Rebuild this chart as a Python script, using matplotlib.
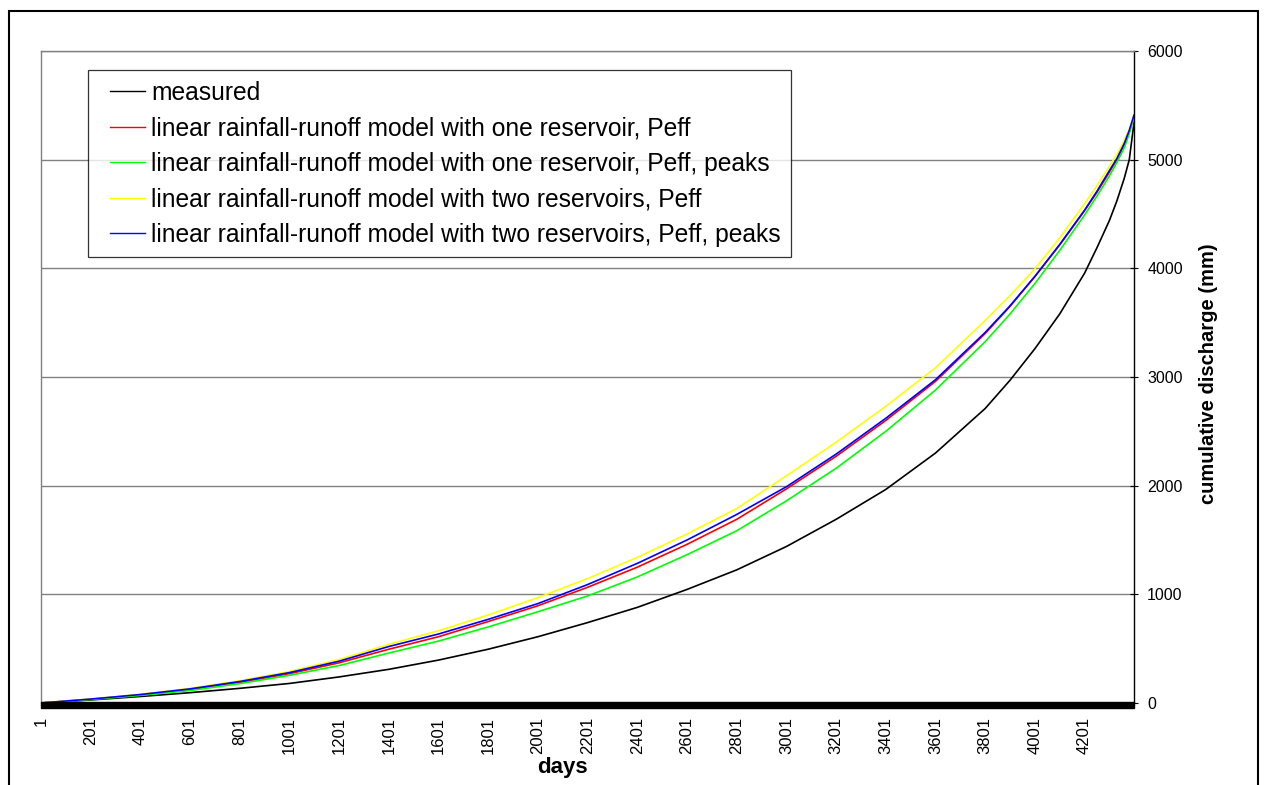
import matplotlib
matplotlib.use("Agg")
import matplotlib.pyplot as plt
from matplotlib.patches import Rectangle
from matplotlib.legend_handler import HandlerLine2D

plt.rcParams['font.family'] = ['Liberation Sans', 'DejaVu Sans']

# Sampled days of the simulation period
days = [1, 201, 401, 601, 801, 1001, 1201, 1401, 1601, 1801, 2001, 2201,
        2401, 2601, 2801, 3001, 3201, 3401, 3601, 3801, 3901, 4001, 4101,
        4201, 4251, 4301, 4331, 4361, 4381, 4400]

# Cumulative discharge (mm)
measured = [0, 28, 60, 95, 135, 180, 240, 310, 395, 495, 610, 740, 880,
            1045, 1225, 1440, 1690, 1965, 2300, 2710, 2970, 3260, 3580,
            3955, 4190, 4440, 4620, 4830, 5000, 5340]
one_res_peff = [0, 35, 75, 125, 190, 270, 370, 495, 610, 750, 895, 1065,
                1250, 1460, 1690, 1970, 2270, 2600, 2960, 3400, 3650, 3925,
                4215, 4530, 4700, 4885, 5000, 5140, 5260, 5400]
one_res_peff_peaks = [0, 32, 70, 115, 178, 255, 345, 460, 570, 700, 840, 985,
                      1160, 1365, 1585, 1860, 2160, 2500, 2880, 3325, 3580,
                      3860, 4165, 4490, 4665, 4850, 4975, 5110, 5240, 5390]
two_res_peff = [0, 37, 80, 135, 205, 290, 400, 540, 665, 810, 970, 1145,
                1340, 1555, 1790, 2090, 2400, 2730, 3085, 3520, 3750, 3995,
                4280, 4595, 4760, 4940, 5050, 5180, 5280, 5405]
two_res_peff_peaks = [0, 36, 78, 130, 198, 280, 385, 520, 635, 770, 915, 1090,
                      1285, 1500, 1735, 1990, 2290, 2620, 2975, 3410, 3655,
                      3925, 4220, 4535, 4710, 4900, 5010, 5150, 5270, 5410]

labels = [
    "measured",
    "linear rainfall-runoff model with one reservoir, Peff",
    "linear rainfall-runoff model with one reservoir, Peff, peaks",
    "linear rainfall-runoff model with two reservoirs, Peff",
    "linear rainfall-runoff model with two reservoirs, Peff, peaks",
]
series = [measured, one_res_peff, one_res_peff_peaks, two_res_peff,
          two_res_peff_peaks]
colors = ["#000000", "#FF0000", "#00FF00", "#FFFF00", "#0000FF"]

x_ticks = list(range(1, 4202, 200))
y_ticks = [0, 1000, 2000, 3000, 4000, 5000, 6000]


class IndentedLineHandler(HandlerLine2D):
    """Legend key line drawn in the right-hand part of the handle box."""

    def create_artists(self, legend, orig_handle, xdescent, ydescent,
                       width, height, fontsize, trans):
        artists = super().create_artists(legend, orig_handle, xdescent,
                                          ydescent, width, height, fontsize,
                                          trans)
        line = artists[0]
        y = line.get_ydata()[0]
        line.set_data([-xdescent + 0.25 * width, -xdescent + width], [y, y])
        return artists


W, H = 1266, 785
fig = plt.figure(figsize=(W / 100, H / 100), dpi=100)
ax = fig.add_axes([41 / W, 1 - 703 / H, 1093 / W, 652 / H])

for vals, col, lab in zip(series, colors, labels):
    ax.plot(days, vals, color=col, lw=1.2, label=lab, solid_joinstyle="round")

ax.set_xlim(1, days[-1])
ax.set_ylim(0, 6000)

# horizontal gridlines
ax.set_yticks(y_ticks)
ax.yaxis.grid(True, color="#808080", lw=1.0)
ax.set_axisbelow(True)

# right-hand value axis
ax.yaxis.tick_right()
ax.yaxis.set_label_position("right")
ax.tick_params(axis="y", direction="inout", length=6, width=0.8,
               labelsize=11.5, pad=6.5, colors="black")
ax.set_ylabel("cumulative discharge (mm)", fontsize=14.5, fontweight="bold")
ax.yaxis.set_label_coords(1.0595, 0.505)

# category axis with day labels
ax.set_xticks(x_ticks)
ax.set_xticklabels([str(t) for t in x_ticks], rotation=90, fontsize=12)
ax.tick_params(axis="x", length=0, pad=10)
ax.set_xlabel("days", fontsize=16, fontweight="bold", va="top")
ax.xaxis.set_label_coords(0.4775, -0.083)

for side in ("left", "top"):
    ax.spines[side].set_color("#808080")
    ax.spines[side].set_linewidth(1.0)
ax.spines["right"].set_color("black")
ax.spines["right"].set_linewidth(1.0)
ax.spines["bottom"].set_visible(False)

# dense daily tick band under the plot area
ax.add_patch(Rectangle((0, -5 / 652), 1, 6 / 652, transform=ax.transAxes,
                       color="black", clip_on=False, zorder=5))

leg = ax.legend(loc="upper left", bbox_to_anchor=(47 / 1093, (703 - 70) / 652),
                fontsize=17.7, frameon=True, fancybox=False, edgecolor="black",
                handlelength=1.89, handletextpad=0.24, labelspacing=0.47,
                borderpad=0.43, borderaxespad=0,
                handler_map={matplotlib.lines.Line2D: IndentedLineHandler()})
leg.get_frame().set_linewidth(0.9)
for line in leg.get_lines():
    line.set_linewidth(1.0)

# outer chart border
fig.patches.append(Rectangle((9 / W, -0.2), (1258 - 9) / W, 1.2 - 11 / H,
                             transform=fig.transFigure, fill=False,
                             edgecolor="black", lw=1.5))

fig.savefig("out.png", dpi=100)
